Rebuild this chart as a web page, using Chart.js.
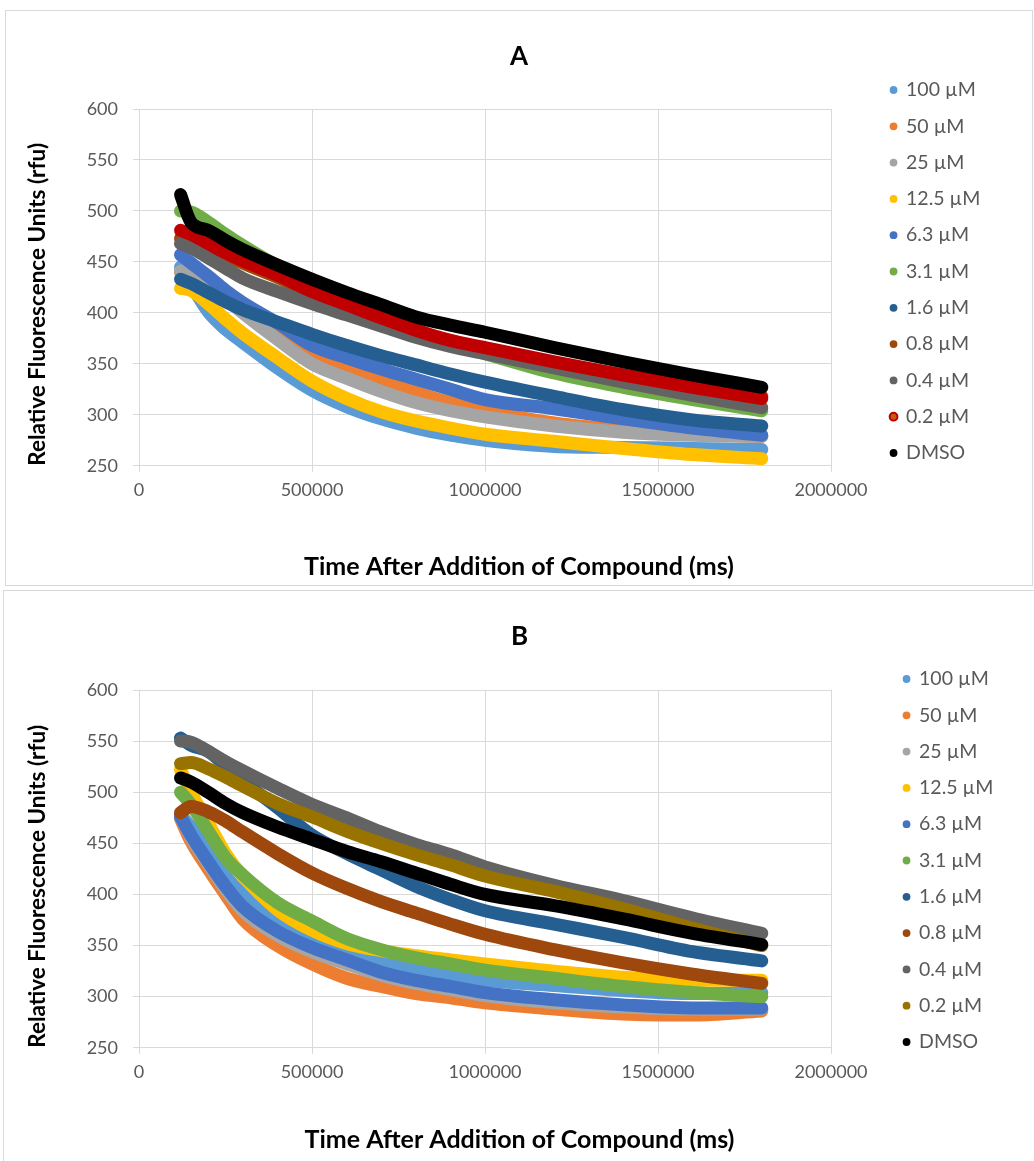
<!DOCTYPE html>
<html>
<head>
<meta charset="utf-8">
<script src="https://cdn.jsdelivr.net/npm/chart.js@4"></script>
<style>
  body { margin: 0; background: #fff; width: 1034px; height: 1161px; overflow: hidden; position: relative; }
  .panel { position: absolute; border: 1px solid #d9d9d9; box-sizing: border-box; background: #fff; }
  #panelA { left: 5px; top: 10px; width: 1028px; height: 576px; }
  #panelB { left: 3px; top: 590px; width: 1033px; height: 575px; }
  canvas { display: block; }
</style>
</head>
<body>
<div class="panel" id="panelA"><canvas id="chartA" width="1026" height="574"></canvas></div>
<div class="panel" id="panelB"><canvas id="chartB" width="1031" height="573"></canvas></div>
<script>
// sample times (ms)
const timeMs = [120000, 150000, 200000, 250000, 300000, 400000, 500000, 600000, 700000, 800000, 900000, 1000000, 1200000, 1400000, 1600000, 1800000];

const concLabels = ["100 µM", "50 µM", "25 µM", "12.5 µM", "6.3 µM", "3.1 µM", "1.6 µM", "0.8 µM", "0.4 µM", "0.2 µM", "DMSO"];

const xTickValues = [0, 500000, 1000000, 1500000, 2000000];
const yTickValues = [250, 300, 350, 400, 450, 500, 550, 600];

// chart A (rfu)
const a100  = [445, 428, 401, 384, 371, 346, 324, 308, 296, 287, 280, 275, 269, 268, 267, 266];
const a50   = [440, 437, 430, 418, 405, 382, 359, 346, 334, 322, 312, 304, 292, 285, 281, 279];
const a25   = [441, 438, 430, 414, 400, 374, 350, 336, 323, 312, 304, 298, 289, 283, 280, 279];
const a12_5 = [424, 422, 409, 394, 380, 356, 333, 316, 303, 294, 287, 281, 274, 267, 261, 257];
const a6_3  = [457, 449, 436, 422, 410, 390, 368, 356, 345, 335, 325, 315, 306, 296, 287, 280];
const a3_1  = [500, 499, 489, 477, 466, 446, 430, 415, 400, 384, 370, 360, 341, 327, 315, 304];
const a1_6  = [433, 429, 420, 411, 403, 391, 379, 368, 358, 349, 340, 332, 318, 305, 295, 289];
const a0_8  = [473, 471, 465, 457, 449, 435, 420, 407, 394, 382, 372, 365, 351, 339, 328, 318];
const a0_4  = [468, 464, 454, 444, 434, 421, 409, 398, 387, 376, 367, 360, 346, 332, 319, 307];
const a0_2  = [481, 477, 468, 459, 451, 437, 421, 408, 395, 383, 373, 366, 352, 339, 327, 316];
const aDMSO = [516, 489, 481, 471, 462, 447, 433, 420, 408, 396, 388, 381, 366, 352, 339, 327];

// chart B (rfu)
const b100  = [478, 466, 442, 418, 400, 374, 357, 345, 335, 328, 321, 316, 311, 306, 303, 304];
const b50   = [474, 452, 425, 400, 376, 350, 332, 318, 310, 303, 299, 294, 288, 283, 282, 286];
const b25   = [476, 456, 430, 405, 384, 360, 344, 332, 321, 313, 307, 301, 294, 290, 288, 288];
const b12_5 = [522, 500, 470, 440, 418, 385, 365, 352, 345, 340, 336, 332, 325, 319, 316, 316];
const b6_3  = [476, 458, 432, 408, 388, 364, 348, 336, 324, 316, 310, 304, 297, 292, 289, 289];
const b3_1  = [500, 488, 462, 436, 419, 392, 374, 357, 346, 338, 332, 326, 318, 310, 304, 300];
const b1_6  = [553, 546, 540, 526, 511, 485, 458, 440, 424, 408, 395, 384, 371, 358, 344, 335];
const b0_8  = [480, 486, 481, 472, 461, 440, 421, 406, 393, 382, 371, 361, 346, 333, 322, 313];
const b0_4  = [550, 549, 540, 530, 521, 504, 488, 475, 461, 449, 439, 427, 409, 394, 377, 362];
const b0_2  = [528, 529, 523, 515, 506, 489, 476, 462, 450, 439, 429, 418, 403, 386, 367, 350];
const bDMSO = [514, 510, 500, 489, 480, 466, 454, 442, 432, 421, 410, 400, 389, 376, 362, 351];

const colorsA = ["#5b9bd5", "#ed7d31", "#a5a5a5", "#ffc000", "#4472c4", "#70ad47", "#255e91", "#9e480e", "#636363", "#c00000", "#000000"];
const colorsB = ["#5b9bd5", "#ed7d31", "#a5a5a5", "#ffc000", "#4472c4", "#70ad47", "#255e91", "#9e480e", "#636363", "#997300", "#000000"];

Chart.defaults.font.family = "Lato, 'Open Sans', sans-serif";

function makeChart(id, title, series, colors, lay) {
  let datasets = [];
  for (let i = 0; i < series.length; i++) {
    let ringed = lay.ringed === i;
    datasets.push({
      label: concLabels[i],
      data: timeMs.map((t, k) => ({ x: t, y: series[i][k] })),
      borderColor: colors[i],
      backgroundColor: colors[i],
      pointBackgroundColor: ringed ? "#c55a11" : colors[i],
      pointBorderColor: colors[i],
      pointBorderWidth: ringed ? 2 : 0,
      pointRadius: 0,
      pointHoverRadius: 0,
      borderWidth: 13,
      borderCapStyle: "round",
      borderJoinStyle: "round",
      cubicInterpolationMode: "monotone",
      order: series.length - i   // last series drawn on top, like the original
    });
  }

  return new Chart(document.getElementById(id), {
    type: "line",
    data: { datasets: datasets },
    options: {
      responsive: false,
      animation: false,
      events: [],
      layout: { padding: 0 },
      plugins: {
        title: {
          display: true, text: title, color: "#000",
          font: { size: 26, weight: "bold" },
          padding: { top: 30.4, bottom: lay.titleBottom }
        },
        subtitle: {
          display: true, position: "bottom",
          text: "Time After Addition of Compound (ms)", color: "#000",
          font: { size: 25, weight: "bold" },
          padding: { top: 10, bottom: lay.subBottom }
        },
        legend: {
          position: "right", align: "start",
          title: { display: true, text: " ", font: { size: 10 }, padding: { top: lay.legendTop, bottom: 0 } },
          labels: {
            usePointStyle: true, pointStyle: "circle",
            boxWidth: 5.5, boxHeight: 5.5, padding: 16.8,
            color: "#595959", font: { size: 19.5 },
            sort: (a, b) => a.datasetIndex - b.datasetIndex
          }
        },
        tooltip: { enabled: false }
      },
      scales: {
        x: {
          type: "linear", min: 0, max: 2000000,
          afterBuildTicks: s => { s.ticks = xTickValues.map(v => ({ value: v })); },
          ticks: { color: "#595959", font: { size: 18 }, padding: 7.6, maxRotation: 0, callback: v => String(v) },
          grid: { color: "#d9d9d9", tickLength: 6 },
          border: { color: "#d9d9d9" },
          afterFit: s => { s.height = lay.xAxisH; }
        },
        y: {
          type: "linear", min: 250, max: 600,
          afterBuildTicks: s => { s.ticks = yTickValues.map(v => ({ value: v })); },
          ticks: { color: "#595959", font: { size: 18 }, padding: 15 },
          grid: { color: "#d9d9d9", tickLength: 6 },
          border: { color: "#d9d9d9" },
          title: {
            display: true, text: "Relative Fluorescence Units (rfu)", align: "start",
            color: "#000", font: { size: 22.5, weight: "bold" },
            padding: { top: lay.yTitlePad, bottom: 0 }
          },
          afterFit: s => { s.width = lay.left; }
        },
        // empty boxes that place the legend where the original has it
        gap: {
          type: "linear", position: "right", display: true,
          ticks: { display: false },
          grid: { display: false, drawTicks: false },
          border: { display: false },
          afterFit: s => { s.width = lay.gap; }
        },
        edge: {
          type: "linear", position: "right", display: true, weight: 2000,
          ticks: { display: false },
          grid: { display: false, drawTicks: false },
          border: { display: false },
          afterFit: s => {
            let lw = s.chart.legend ? s.chart.legend.width : 120;
            s.width = Math.max(0, s.chart.width - lay.right - lay.gap - lw);
          }
        }
      }
    }
  });
}

makeChart("chartA", "A",
  [a100, a50, a25, a12_5, a6_3, a3_1, a1_6, a0_8, a0_4, a0_2, aDMSO], colorsA,
  { right: 825, gap: 43, left: 133, titleBottom: 36.4, subBottom: 2.6, xAxisH: 76.6, legendTop: 40.45, yTitlePad: 18.5, ringed: 9 });

makeChart("chartB", "B",
  [b100, b50, b25, b12_5, b6_3, b3_1, b1_6, b0_8, b0_4, b0_2, bDMSO], colorsB,
  { right: 827, gap: 56, left: 135, titleBottom: 37.4, subBottom: 8.6, xAxisH: 67.6, legendTop: 49.45, yTitlePad: 20.5, ringed: -1 });
</script>
</body>
</html>
